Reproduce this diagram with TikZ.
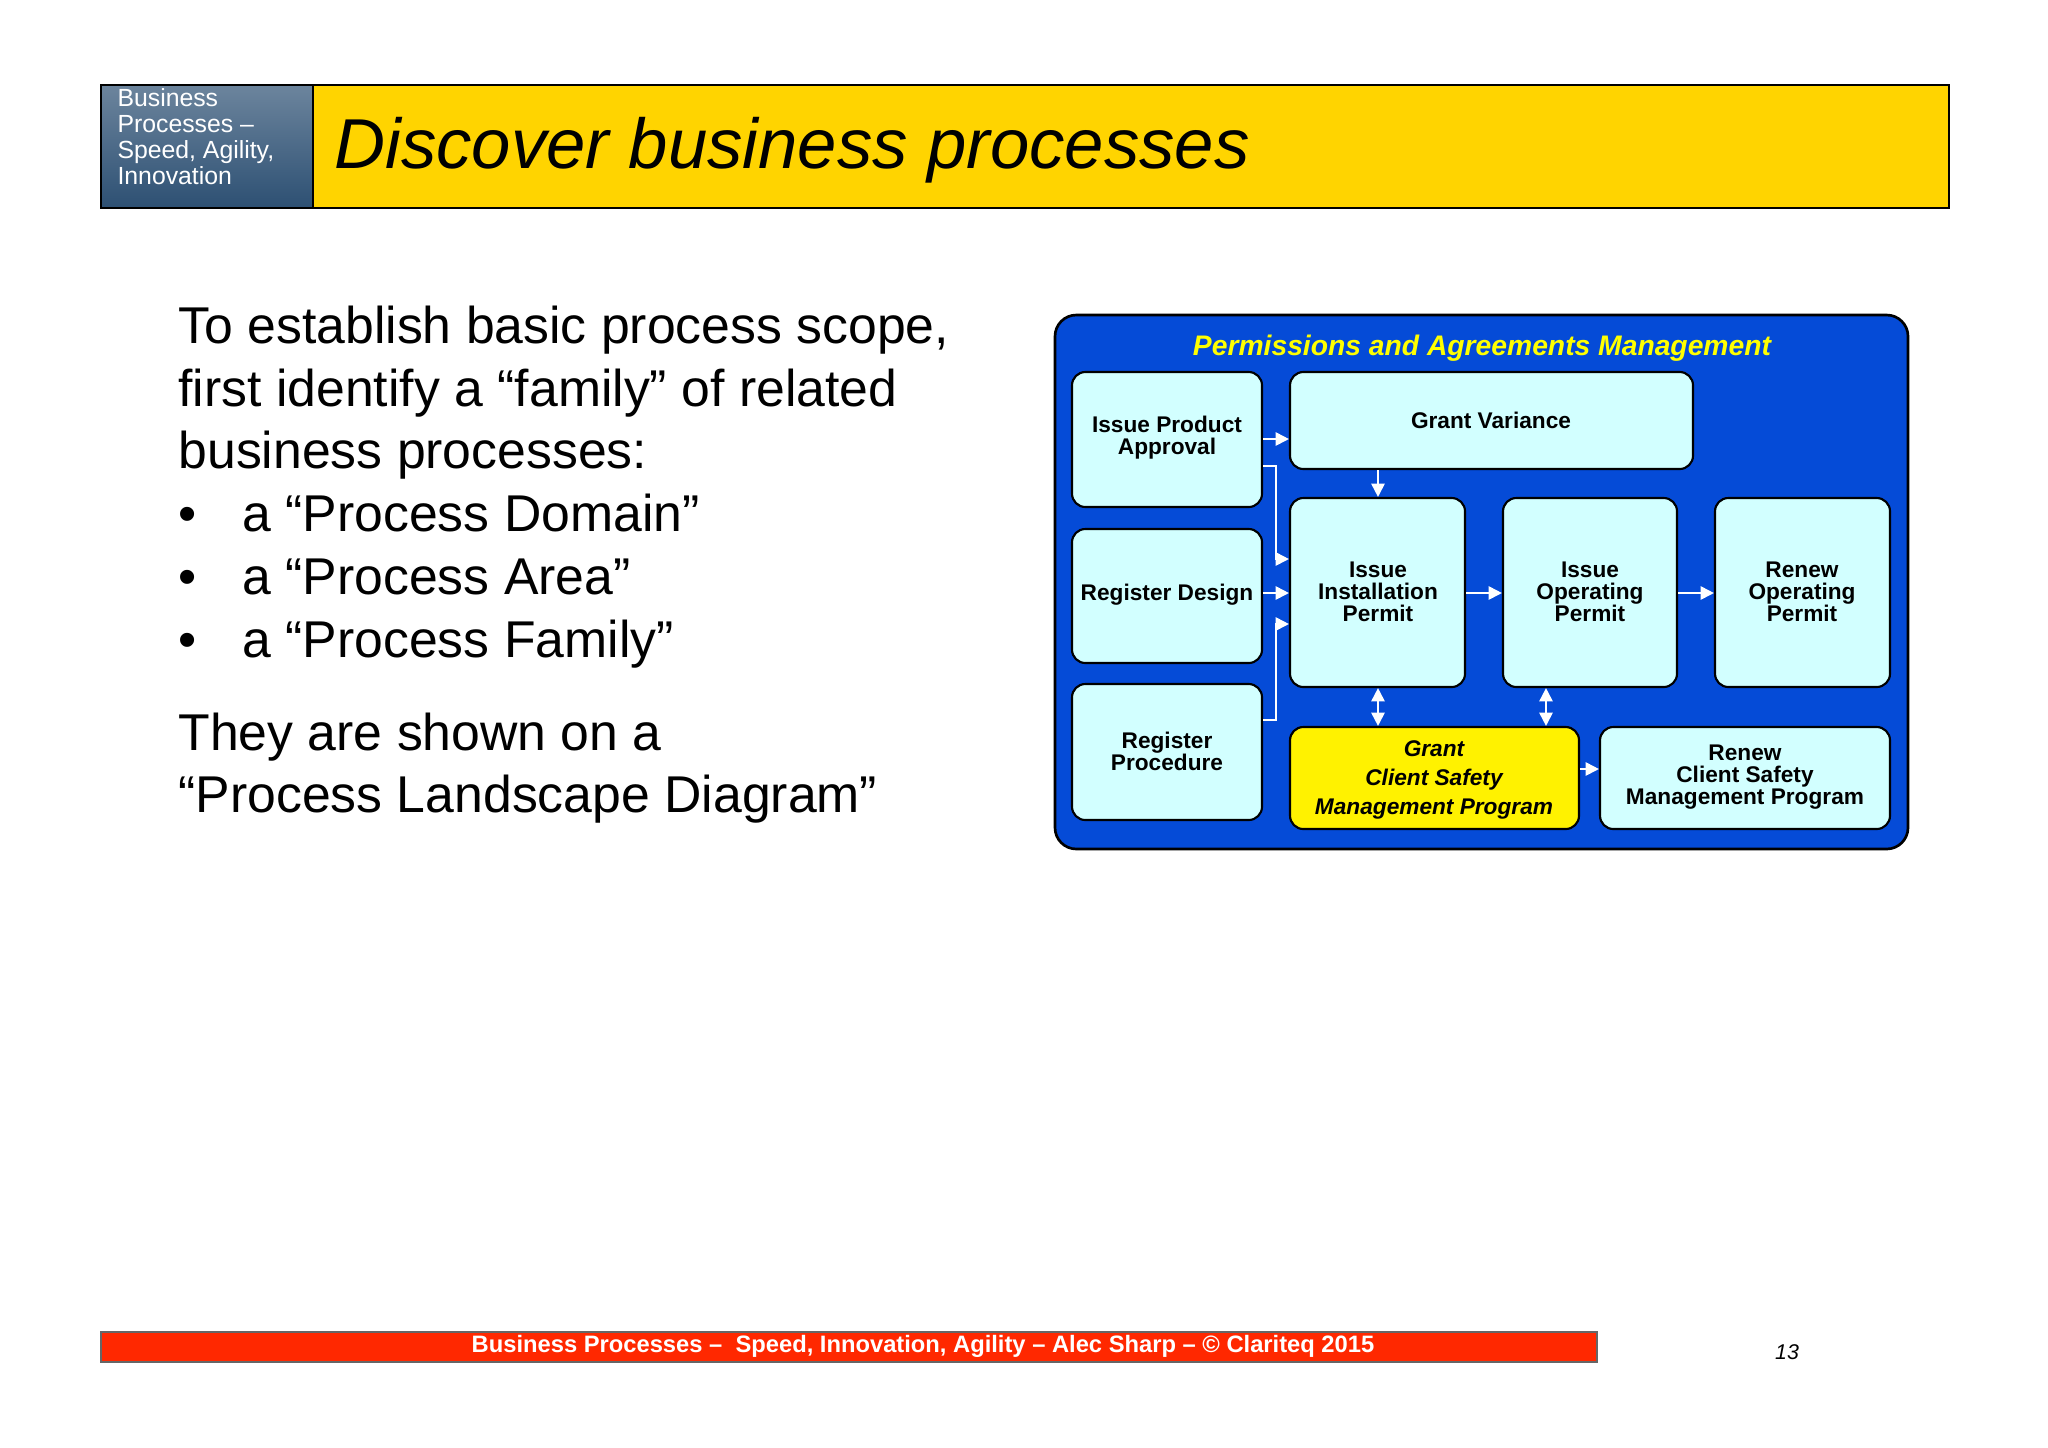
\documentclass[tikz,border=0pt]{standalone}
\usepackage{fontspec}
\setmainfont{Liberation Sans}
\usetikzlibrary{arrows.meta}
\definecolor{panelblue}{RGB}{5,75,215}
\definecolor{boxcyan}{RGB}{210,255,255}
\definecolor{hdryellow}{RGB}{255,212,0}
\definecolor{hdrdark}{RGB}{45,80,115}
\definecolor{footred}{RGB}{255,40,0}
\def\u{0.375pt}
\tikzset{
 box/.style={draw=black,line width=0.8pt,fill=boxcyan,rounded corners=5pt,align=center,font=\fontsize{8.3}{8.3}\selectfont\bfseries,inner sep=1pt},
 conn/.style={draw=white,line width=0.7pt,-{Triangle[length=5pt,width=5pt]}},
 dconn/.style={draw=white,line width=0.7pt,{Triangle[length=5pt,width=5pt]}-{Triangle[length=5pt,width=5pt]}},
 btxt/.style={font=\fontsize{8.5}{8.3}\selectfont\bfseries,align=center}
}
\newcommand\bx[6]{\node[box,#6,minimum width={(#3-#2)*\u},minimum height={(#5-#4)*\u}] (#1) at ({(#2+#3)/2},{(#4+#5)/2}) {};}
\begin{document}
\begin{tikzpicture}[x=0.375pt,y=-0.375pt]
\useasboundingbox (0,0) rectangle (2048,1447);
\fill[white] (0,0) rectangle (2048,1447);
% header
\node[draw=black,line width=1pt,fill=hdryellow,minimum width={(1949-313)*\u},minimum height={123*\u},inner sep=0] (hdr) at ({(313+1949)/2},146.5) {};
\node[draw=black,line width=1pt,top color=hdrdark!70!white,bottom color=hdrdark,minimum width={212*\u},minimum height={123*\u},inner sep=0] (hdrl) at (207,146.5) {};
\node[anchor=north west,align=left,text=white,font=\fontsize{9.3}{9.8}\selectfont,inner sep=0] (hdrt) at (117,88) {Business\\Processes --\\Speed, Agility,\\Innovation};
\node[anchor=west,font=\fontsize{26.5}{26.5}\selectfont\itshape,inner sep=0] (title) at (334,150) {Discover business processes};
% body text
\begin{scope}[font=\fontsize{19.4}{19.4}\selectfont]
\node[anchor=base west,inner sep=0] (t1) at (178,343) {To establish basic process scope,};
\node[anchor=base west,inner sep=0] (t2) at (178,406) {first identify a “family” of related};
\node[anchor=base west,inner sep=0] (t3) at (178,468) {business processes:};
\node[anchor=base west,inner sep=0] (b1) at (178,531) {•};
\node[anchor=base west,inner sep=0] (t4) at (242,531) {a “Process Domain”};
\node[anchor=base west,inner sep=0] (b2) at (178,594) {•};
\node[anchor=base west,inner sep=0] (t5) at (242,594) {a “Process Area”};
\node[anchor=base west,inner sep=0] (b3) at (178,657) {•};
\node[anchor=base west,inner sep=0] (t6) at (242,657) {a “Process Family”};
\node[anchor=base west,inner sep=0] (t7) at (178,750) {They are shown on a};
\node[anchor=base west,inner sep=0] (t8) at (178,812) {“Process Landscape Diagram”};
\end{scope}
% panel
\node[draw=black,line width=1pt,fill=panelblue,rounded corners=8pt,minimum width={(1908-1055)*\u},minimum height={(849-315)*\u}] (panel) at ({(1055+1908)/2},{(315+849)/2}) {};
\node[text={rgb,255:red,255;green,255;blue,0},font=\fontsize{10.6}{10.6}\selectfont\bfseries\itshape] (ptitle) at (1482,348) {Permissions and Agreements Management};
\bx{ipa}{1072}{1262}{372}{507}{}
\node[btxt] at (1167,438) {Issue Product\\Approval};
\bx{gv}{1290}{1693}{372}{469}{}
\node[btxt] at (1491,420) {Grant Variance};
\bx{rd}{1072}{1262}{529}{663}{}
\node[btxt] at (1167,595) {Register Design};
\bx{iip}{1290}{1465}{498}{687}{}
\node[btxt] at (1378,592) {Issue\\Installation\\Permit};
\bx{iop}{1503}{1677}{498}{687}{}
\node[btxt] at (1590,592) {Issue\\Operating\\Permit};
\bx{rop}{1715}{1890}{498}{687}{}
\node[btxt] at (1802,592) {Renew\\Operating\\Permit};
\bx{rp}{1072}{1262}{684}{820}{}
\node[btxt] at (1167,751) {Register\\Procedure};
\bx{gc}{1290}{1579}{727}{829}{fill=yellow}
\node[font=\fontsize{8.5}{10.8}\selectfont\bfseries\itshape,align=center] at (1434,780) {Grant\\Client Safety\\Management Program};
\bx{rc}{1600}{1890}{727}{829}{}
\node[btxt] at (1745,777) {Renew\\Client Safety\\Management Program};
% connectors
\draw[conn] (ipa.east |- 0,439) -- (gv.west |- 0,439);
\draw[conn] (ipa.east |- 0,466) -| (1276,559) -- (iip.west |- 0,559);
\draw[conn] (rd.east |- 0,593) -- (iip.west |- 0,593);
\draw[conn] (rp.east |- 0,720) -| (1276,624) -- (iip.west |- 0,624);
\draw[conn] (gv.south -| 1378,0) -- (iip.north -| 1378,0);
\draw[conn] (iip.east |- 0,593) -- (iop.west |- 0,593);
\draw[conn] (iop.east |- 0,593) -- (rop.west |- 0,593);
\draw[dconn] (iip.south -| 1378,0) -- (gc.north -| 1378,0);
\draw[dconn] (iop.south -| 1546,0) -- (gc.north -| 1546,0);
\draw[conn] (gc.east |- 0,769) -- (rc.west |- 0,769);
% footer
\node[draw=black!60,line width=0.4pt,fill=footred,minimum width={(1597-101)*\u},minimum height={30*\u},inner sep=0] (foot) at (849,1347) {};
\node[text=white,font=\fontsize{8.9}{8.9}\selectfont\bfseries] (foott) at (923,1346) {Business Processes --\ \ Speed, Innovation, Agility -- Alec Sharp -- © Clariteq 2015};
\node[font=\fontsize{8}{8}\selectfont\itshape] (pg) at (1787,1352) {13};
\end{tikzpicture}
\end{document}
